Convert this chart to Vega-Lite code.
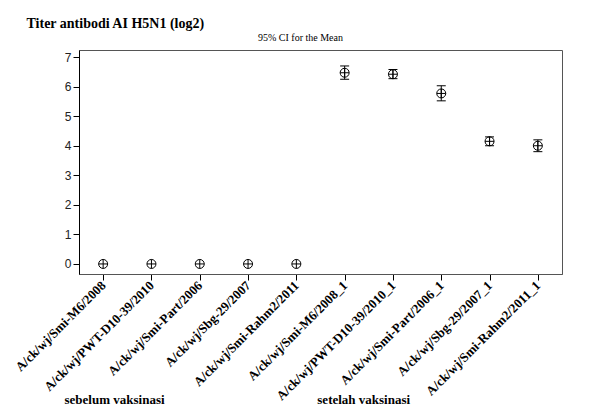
{
  "$schema": "https://vega.github.io/schema/vega-lite/v6.json",
  "width": 483,
  "height": 224,
  "autosize": {"type": "none"},
  "padding": {"left": 79, "top": 50, "right": 28, "bottom": 133},
  "background": "white",
  "title": {"text": "95% CI for the Mean", "font": "Liberation Serif", "fontSize": 10, "fontWeight": "normal", "color": "black", "anchor": "middle", "dx": -20, "dy": 31, "offset": 4, "frame": "group"},
  "data": {"values": [
    {"strain": "A/ck/wj/Smi-M6/2008", "mean": 0, "lo": null, "hi": null},
    {"strain": "A/ck/wj/PWT-D10-39/2010", "mean": 0, "lo": null, "hi": null},
    {"strain": "A/ck/wj/Smi-Part/2006", "mean": 0, "lo": null, "hi": null},
    {"strain": "A/ck/wj/Sbg-29/2007", "mean": 0, "lo": null, "hi": null},
    {"strain": "A/ck/wj/Smi-Rahm2/2011", "mean": 0, "lo": null, "hi": null},
    {"strain": "A/ck/wj/Smi-M6/2008_1", "mean": 6.47, "lo": 6.25, "hi": 6.7},
    {"strain": "A/ck/wj/PWT-D10-39/2010_1", "mean": 6.42, "lo": 6.27, "hi": 6.58},
    {"strain": "A/ck/wj/Smi-Part/2006_1", "mean": 5.77, "lo": 5.52, "hi": 6.03},
    {"strain": "A/ck/wj/Sbg-29/2007_1", "mean": 4.15, "lo": 4.0, "hi": 4.3},
    {"strain": "A/ck/wj/Smi-Rahm2/2011_1", "mean": 4.0, "lo": 3.8, "hi": 4.2}
  ]},
  "encoding": {
    "x": {
      "field": "strain", "type": "nominal",
      "sort": ["A/ck/wj/Smi-M6/2008", "A/ck/wj/PWT-D10-39/2010", "A/ck/wj/Smi-Part/2006", "A/ck/wj/Sbg-29/2007", "A/ck/wj/Smi-Rahm2/2011", "A/ck/wj/Smi-M6/2008_1", "A/ck/wj/PWT-D10-39/2010_1", "A/ck/wj/Smi-Part/2006_1", "A/ck/wj/Sbg-29/2007_1", "A/ck/wj/Smi-Rahm2/2011_1"],
      "scale": {"type": "point", "padding": 0.5},
      "axis": {
        "title": "sebelum vaksinasi\u00a0\u00a0\u00a0\u00a0\u00a0\u00a0\u00a0\u00a0\u00a0\u00a0\u00a0\u00a0\u00a0\u00a0\u00a0\u00a0\u00a0\u00a0\u00a0\u00a0\u00a0\u00a0\u00a0\u00a0\u00a0\u00a0\u00a0\u00a0\u00a0\u00a0\u00a0\u00a0\u00a0\u00a0\u00a0\u00a0\u00a0\u00a0\u00a0\u00a0\u00a0\u00a0\u00a0\u00a0\u00a0\u00a0\u00a0setelah vaksinasi",
        "titleFont": "Liberation Serif", "titleFontSize": 13, "titleFontWeight": "bold", "titleColor": "black",
        "titleAlign": "left", "titleBaseline": "alphabetic", "titleX": -15, "titleY": 129, "titleAnchor": "start",
        "labelAngle": -45, "labelAlign": "right", "labelBaseline": "middle",
        "labelFont": "Liberation Serif", "labelFontWeight": "bold", "labelFontSize": 13, "labelColor": "black",
        "labelPadding": 3, "labelOverlap": false, "labelLimit": 0,
        "tickSize": 6, "tickColor": "black", "domainColor": "#555", "grid": false
      }
    },
    "y": {"field": "mean", "type": "quantitative", "scale": {"domain": [-0.34, 7.24], "nice": false, "zero": false},
      "axis": {
        "title": "Titer antibodi AI H5N1 (log2)", "titleAngle": 0, "titleX": -53, "titleY": -23,
        "titleAlign": "left", "titleBaseline": "alphabetic", "titleFont": "Liberation Serif",
        "titleFontSize": 14, "titleFontWeight": "bold", "titleColor": "black",
        "values": [0, 1, 2, 3, 4, 5, 6, 7], "labelFont": "Liberation Sans", "labelFontSize": 12,
        "labelColor": "#222", "labelPadding": 2, "tickSize": 6, "tickColor": "black",
        "domainColor": "black", "grid": false
      }}
  },
  "layer": [
    {
      "mark": {"type": "point", "shape": "M-1,0A1,1 0 1,1 1,0A1,1 0 1,1 -1,0ZM-1,0L1,0M0,-1L0,1", "size": 81, "filled": false, "color": "black", "strokeWidth": 1, "opacity": 1}
    },
    {
      "mark": {"type": "rule", "color": "black", "strokeWidth": 1},
      "encoding": {
        "y": {"field": "lo", "type": "quantitative", "title": "Titer antibodi AI H5N1 (log2)"},
        "y2": {"field": "hi"}
      }
    },
    {
      "mark": {"type": "tick", "color": "black", "size": 9, "thickness": 1, "opacity": 1},
      "encoding": {"y": {"field": "lo", "type": "quantitative", "title": "Titer antibodi AI H5N1 (log2)"}}
    },
    {
      "mark": {"type": "tick", "color": "black", "size": 9, "thickness": 1, "opacity": 1},
      "encoding": {"y": {"field": "hi", "type": "quantitative", "title": "Titer antibodi AI H5N1 (log2)"}}
    }
  ],
  "config": {"view": {"stroke": "#555"}}
}
